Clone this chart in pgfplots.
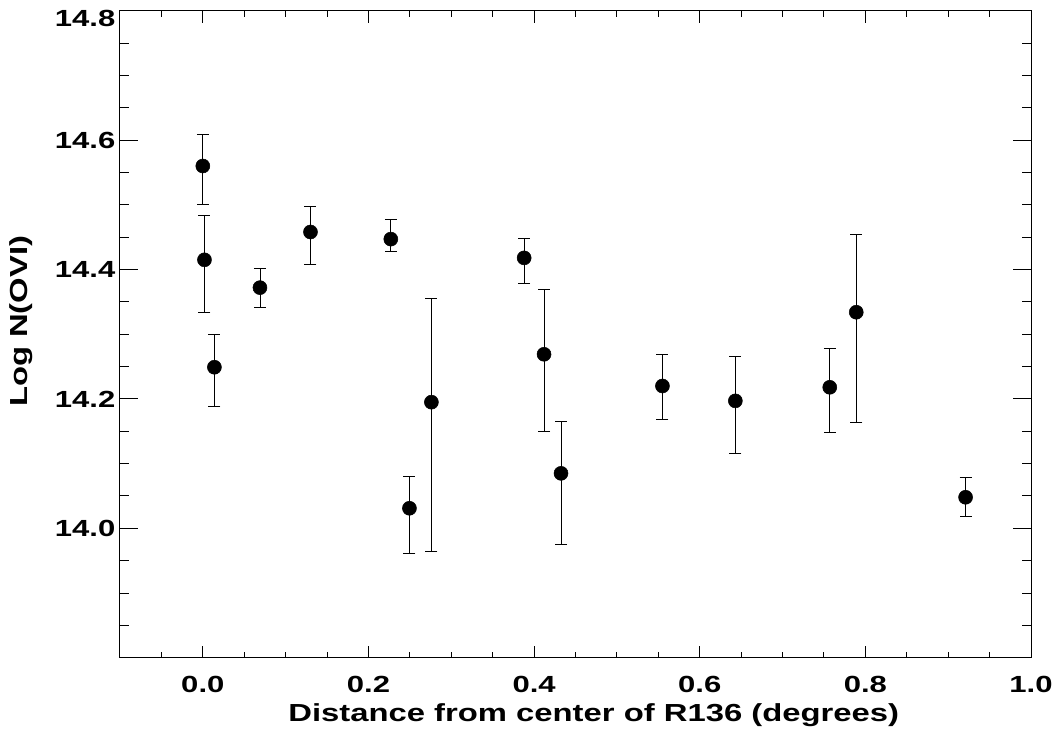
\documentclass[border=0pt]{standalone}
\usepackage{fontspec}
\setmainfont{Liberation Sans}
\newfontfamily\widefont[FakeStretch=1.33]{Liberation Sans}
\usepackage{pgfplots}
\usepackage{pgfplotstable}
\pgfplotsset{compat=1.18}
\pgfplotstableread{
x y ep em
0.000 14.560 0.049 0.060
0.002 14.415 0.069 0.081
0.014 14.249 0.050 0.061
0.069 14.372 0.030 0.031
0.130 14.458 0.040 0.050
0.227 14.447 0.031 0.019
0.2495 14.031 0.050 0.070
0.276 14.195 0.160 0.230
0.388 14.418 0.030 0.040
0.412 14.269 0.101 0.119
0.4325 14.085 0.080 0.110
0.555 14.220 0.049 0.051
0.643 14.197 0.069 0.081
0.757 14.218 0.060 0.070
0.789 14.334 0.120 0.170
0.921 14.048 0.030 0.030
}\datatable
\begin{document}
\begin{tikzpicture}
\path[use as bounding box] (-90pt,-57.2pt) rectangle (702pt,493.3pt);
\begin{axis}[
  at={(0,0)}, anchor=south west,
  scale only axis, width=683.25pt, height=485.25pt,
  xmin=-0.1, xmax=1.0, ymin=13.8, ymax=14.8,
  axis line style={line width=0.75pt},
  every tick/.style={black, line width=0.75pt},
  tick align=inside,
  xtick={0,0.2,0.4,0.6,0.8,1.0},
  minor xtick={-0.05,0.05,0.1,0.15,0.25,0.3,0.35,0.45,0.5,0.55,0.65,0.7,0.75,0.85,0.9,0.95},
  ytick={14.0,14.2,14.4,14.6,14.8},
  yticklabels={14.0,14.2,14.4,14.6,\raisebox{-12pt}[0pt][0pt]{14.8}},
  minor ytick={13.85,13.9,13.95,14.05,14.1,14.15,14.25,14.3,14.35,14.45,14.5,14.55,14.65,14.7,14.75},
  xtick style={/pgfplots/major tick length=9pt,/pgfplots/minor tick length=4.5pt},
  ytick style={/pgfplots/major tick length=13.5pt,/pgfplots/minor tick length=6.75pt},
  major tick length=11pt, minor tick length=5.5pt,
  /pgf/number format/assume math mode=true,
  xticklabel style={font=\widefont\bfseries\fontsize{17.5}{20}\selectfont, yshift=-10pt, /pgf/number format/.cd, fixed, fixed zerofill, precision=1},
  yticklabel style={font=\widefont\bfseries\fontsize{17.5}{20}\selectfont},
  xlabel={Distance from center of R136 (degrees)},
  ylabel={Log N(OVI)},
  xlabel style={font=\widefont\bfseries\fontsize{18.5}{20}\selectfont, at={(axis description cs:0.52,-0.0979)}, anchor=base},
  ylabel style={font=\widefont\bfseries\fontsize{18.5}{20}\selectfont, at={(axis description cs:-0.102,0.52)}, anchor=base},
]
\addplot[only marks, mark=*, mark size=5.25pt, black,
  error bars/.cd, y dir=both, y explicit,
  error bar style={line width=0.6pt, black},
  error mark=-,
  error mark options={rotate=90, line width=0.6pt, mark size=4.5pt, black}]
  table[x=x, y=y, y error plus=ep, y error minus=em] {\datatable};
\end{axis}
\end{tikzpicture}
\end{document}
